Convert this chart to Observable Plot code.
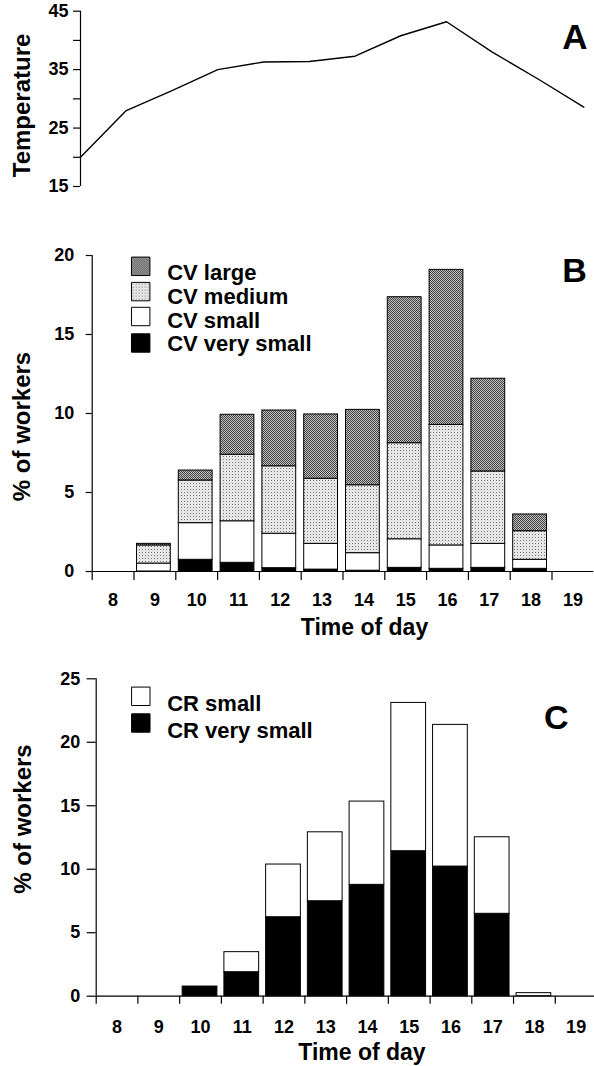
<!DOCTYPE html>
<html>
<head>
<meta charset="utf-8">
<script src="https://cdn.jsdelivr.net/npm/d3@7"></script>
<script src="https://cdn.jsdelivr.net/npm/@observablehq/plot@0.6"></script>
<style>
  html, body { margin: 0; padding: 0; background: white; }
  #wrap { position: relative; width: 594px; height: 1066px; overflow: hidden; }
  #wrap > div { position: absolute; left: 0; }
</style>
</head>
<body>
<svg width="0" height="0" style="position:absolute;width:0;height:0">
  <defs>
    <pattern id="pLarge" width="2" height="2" patternUnits="userSpaceOnUse">
      <rect width="2" height="2" fill="#bcbcbc"/>
      <rect x="0" y="0" width="1" height="1" fill="#474747"/>
      <rect x="1" y="1" width="1" height="1" fill="#474747"/>
    </pattern>
    <pattern id="pMedium" width="3" height="3" patternUnits="userSpaceOnUse">
      <rect width="3" height="3" fill="#e6e6e6"/>
      <rect x="1" y="1" width="1" height="1" fill="#7a7a7a"/>
    </pattern>
  </defs>
</svg>
<div id="wrap">
  <div id="panelA" style="top:0px"></div>
  <div id="panelB" style="top:200px"></div>
  <div id="panelC" style="top:645px"></div>
</div>
<script>
// ---- data ----
const hours = [8, 9, 10, 11, 12, 13, 14, 15, 16, 17, 18, 19];
const temperature = [20.0, 28.0, 31.4, 35.0, 36.3, 36.4, 37.3, 40.8, 43.2, 38.0, 33.4, 28.6];

const cvNames = ["CV very small", "CV small", "CV medium", "CV large"];
const cvVerySmall = [0, 0, 0.74, 0.55, 0.21, 0.12, 0.05, 0.23, 0.17, 0.23, 0.17, 0];
const cvSmall     = [0, 0.50, 2.32, 2.63, 2.18, 1.63, 1.11, 1.81, 1.48, 1.52, 0.57, 0];
const cvMedium    = [0, 1.15, 2.70, 4.21, 4.27, 4.12, 4.30, 6.08, 7.63, 4.58, 1.81, 0];
const cvLarge     = [0, 0.10, 0.63, 2.53, 3.53, 4.07, 4.77, 9.24, 9.81, 5.87, 1.06, 0];

const crNames = ["CR very small", "CR small"];
const crVerySmall = [0, 0, 0.76, 1.89, 6.22, 7.48, 8.77, 11.42, 10.21, 6.49, 0, 0];
const crSmall     = [0, 0, 0, 1.58, 4.15, 5.43, 6.56, 11.68, 11.16, 6.03, 0.24, 0];

const tempTicks = [15, 20, 25, 30, 35, 40, 45];
const cvTicks = [0, 5, 10, 15, 20];
const crTicks = [0, 5, 10, 15, 20, 25];
const hourEdges = [7.5, 8.5, 9.5, 10.5, 11.5, 12.5, 13.5, 14.5, 15.5, 16.5, 17.5, 18.5];

// ---- helpers ----
function stackRows(series, names) {
  const rows = [];
  hours.forEach((h, i) => {
    let base = 0;
    series.forEach((s, k) => {
      const v = s[i];
      if (v > 0) rows.push({hour: h, cat: names[k], y1: base, y2: base + v});
      base += v;
    });
  });
  return rows;
}
const FONT = "'Liberation Sans', Arial, Helvetica, sans-serif";
const baseStyle = {fontFamily: FONT, fontWeight: "bold", fontSize: "18px", color: "black", background: "white", overflow: "visible"};
const B = {fontWeight: "bold", fill: "black"};
const TICKFS = 18;
const LEGFS = 22;

// ---- Panel A ----
const tempData = hours.map((h, i) => ({hour: h, t: temperature[i]}));
const plotA = Plot.plot({
  width: 594, height: 200,
  marginTop: 10.7, marginBottom: 14, marginLeft: 80, marginRight: 10.7,
  style: baseStyle,
  x: {domain: [8, 19], axis: null},
  y: {domain: [15, 45], axis: null},
  marks: [
    Plot.ruleX([8], {y1: 15, y2: 45, stroke: "black", strokeWidth: 1.2}),
    Plot.axisY({ticks: tempTicks, tickSize: 7, tickPadding: 5, label: null, fontSize: TICKFS,
                tickFormat: d => (d % 10 === 5 ? String(d) : ""), strokeWidth: 1.2}),
    Plot.line(tempData, {x: "hour", y: "t", stroke: "black", strokeWidth: 1.4}),
    Plot.text(["Temperature"], {frameAnchor: "left", textAnchor: "middle", dx: -50.5, dy: 6.6, rotate: -90, lineAnchor: "bottom", fontSize: 24, ...B}),
    Plot.text(["A"], {frameAnchor: "top-right", textAnchor: "end", lineAnchor: "bottom", dx: 3.7, dy: 37.6, fontSize: 35, ...B})
  ]
});
document.getElementById("panelA").appendChild(plotA);

// ---- Panel B ----
const cvRows = stackRows([cvVerySmall, cvSmall, cvMedium, cvLarge], cvNames);
const cvFills = ["black", "white", "url(#pMedium)", "url(#pLarge)"];
const legendB = [
  {name: "CV large", fill: cvFills[3], sy: 10.8, ty: 24.8},
  {name: "CV medium", fill: cvFills[2], sy: 36.1, ty: 48.6},
  {name: "CV small", fill: cvFills[1], sy: 61.0, ty: 72.3},
  {name: "CV very small", fill: cvFills[0], sy: 87.5, ty: 95.8}
];
const plotB = Plot.plot({
  width: 594, height: 445,
  marginTop: 55, marginBottom: 74, marginLeft: 91.7, marginRight: 0.7,
  style: baseStyle,
  x: {domain: [7.5, 19.5]},
  y: {domain: [0, 20]},
  color: {domain: cvNames, range: cvFills},
  marks: [
    Plot.rect(cvRows, {x1: d => d.hour - 0.5, x2: d => d.hour + 0.5, y1: "y1", y2: "y2", fill: "cat",
                       stroke: "black", strokeWidth: 1, insetLeft: 3, insetRight: 5}),
    Plot.ruleY([0], {stroke: "black", strokeWidth: 1.2}),
    Plot.ruleX([7.5], {y1: 0, y2: 20, stroke: "black", strokeWidth: 1.2}),
    Plot.axisY({ticks: cvTicks, tickSize: 6, tickPadding: 12, label: null, fontSize: TICKFS, strokeWidth: 1.2}),
    Plot.axisX({ticks: hourEdges, tickSize: 9, tickFormat: () => "", label: null, strokeWidth: 1.2}),
    Plot.axisX({ticks: hours, tickSize: 0, tickPadding: 22, label: null, fontSize: TICKFS}),
    ...legendB.map(l => Plot.dot([l.name], {frameAnchor: "top-left", dx: 48.5, dy: l.sy, symbol: "square", r: 10.4,
                                          fill: l.fill, stroke: "black", strokeWidth: 1})),
    ...legendB.map(l => Plot.text([l.name], {frameAnchor: "top-left", dx: 75, dy: l.ty, textAnchor: "start",
                                           lineAnchor: "bottom", fontSize: LEGFS, ...B})),
    Plot.text(["% of workers"], {frameAnchor: "left", textAnchor: "middle", dx: -61.7, dy: 13, rotate: -90, lineAnchor: "bottom", fontSize: 24, ...B}),
    Plot.text(["Time of day"], {frameAnchor: "bottom", textAnchor: "middle", dx: 21.5, dy: 63, lineAnchor: "bottom", fontSize: 23, ...B}),
    Plot.text(["B"], {frameAnchor: "top-right", textAnchor: "end", lineAnchor: "bottom", dx: -7, dy: 26, fontSize: 34, ...B})
  ]
});
document.getElementById("panelB").appendChild(plotB);

// ---- Panel C ----
const crRows = stackRows([crVerySmall, crSmall], crNames);
const crFills = ["black", "white"];
const legendC = [
  {name: "CR small", fill: crFills[1], sy: 17.5, ty: 32.0},
  {name: "CR very small", fill: crFills[0], sy: 44.2, ty: 58.7}
];
const plotC = Plot.plot({
  width: 594, height: 421,
  marginTop: 33.3, marginBottom: 70.3, marginLeft: 95.7, marginRight: 0,
  style: baseStyle,
  x: {domain: [7.5, 19.44]},
  y: {domain: [0, 25]},
  color: {domain: crNames, range: crFills},
  marks: [
    Plot.rect(crRows, {x1: d => d.hour - 0.5, x2: d => d.hour + 0.5, y1: "y1", y2: "y2", fill: "cat",
                       stroke: "black", strokeWidth: 1, insetLeft: 3, insetRight: 4}),
    Plot.ruleY([0], {stroke: "black", strokeWidth: 1.2}),
    Plot.ruleX([7.5], {y1: 0, y2: 25, stroke: "black", strokeWidth: 1.2}),
    Plot.axisY({ticks: crTicks, tickSize: 9, tickPadding: 7, label: null, fontSize: TICKFS, strokeWidth: 1.2}),
    Plot.axisX({ticks: hourEdges, tickSize: 8, tickFormat: () => "", label: null, strokeWidth: 1.2}),
    Plot.axisX({ticks: hours, tickSize: 0, tickPadding: 24, label: null, fontSize: TICKFS}),
    ...legendC.map(l => Plot.dot([l.name], {frameAnchor: "top-left", dx: 44.6, dy: l.sy, symbol: "square", r: 10.4,
                                          fill: l.fill, stroke: "black", strokeWidth: 1})),
    ...legendC.map(l => Plot.text([l.name], {frameAnchor: "top-left", dx: 71, dy: l.ty, textAnchor: "start",
                                           lineAnchor: "bottom", fontSize: LEGFS, ...B})),
    Plot.text(["% of workers"], {frameAnchor: "left", textAnchor: "middle", dx: -65.7, dy: -18.5, rotate: -90, lineAnchor: "bottom", fontSize: 24, ...B}),
    Plot.text(["Time of day"], {frameAnchor: "bottom", textAnchor: "middle", dx: 16.6, dy: 63.8, lineAnchor: "bottom", fontSize: 23, ...B}),
    Plot.text(["C"], {frameAnchor: "top-right", textAnchor: "end", lineAnchor: "bottom", dx: -26, dy: 49.7, fontSize: 34, ...B})
  ]
});
document.getElementById("panelC").appendChild(plotC);
</script>
</body>
</html>
